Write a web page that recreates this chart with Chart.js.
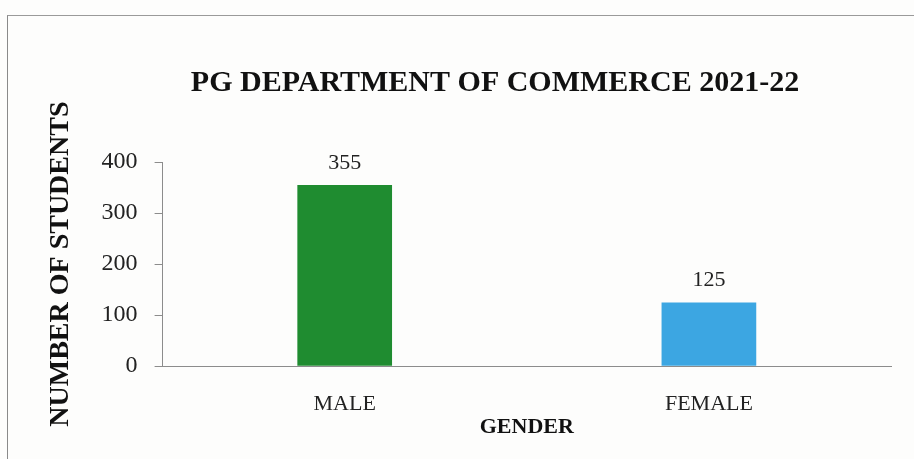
<!DOCTYPE html>
<html>
<head>
<meta charset="utf-8">
<script src="https://cdn.jsdelivr.net/npm/chart.js@4"></script>
<style>
  html, body { margin: 0; padding: 0; background: #fdfdfc; }
  #wrap { position: relative; width: 914px; height: 459px; }
  #frame { position: absolute; left: 7px; top: 15px; right: 0; bottom: 0;
           border-top: 1px solid #9a9a9a; border-left: 1px solid #8a8a8a; }
  canvas { position: absolute; left: 0; top: 0; }
</style>
</head>
<body>
<div id="wrap">
  <div id="frame"></div>
  <canvas id="myChart" width="914" height="459"></canvas>
</div>
<script>
const categories = ["MALE", "FEMALE"];
const students = [355, 125];
const barColors = ["rgb(31, 140, 48)", "rgb(60, 166, 226)"];
const yTicks = [0, 100, 200, 300, 400];

// draw the value above each bar
const valueLabels = {
  id: "valueLabels",
  afterDatasetsDraw(chart) {
    const ctx = chart.ctx;
    const meta = chart.getDatasetMeta(0);
    ctx.save();
    ctx.font = "22px 'Liberation Serif'";
    ctx.fillStyle = "#222";
    ctx.textAlign = "center";
    ctx.textBaseline = "middle";
    meta.data.forEach((bar, i) => {
      ctx.fillText(students[i], bar.x, bar.y - 22);
    });
    ctx.restore();
  },
};

const ctx = document.getElementById("myChart").getContext("2d");
const myChart = new Chart(ctx, {
  type: "bar",
  data: {
    labels: categories,
    datasets: [
      {
        label: "Students",
        data: students,
        backgroundColor: barColors,
        borderWidth: 0,
        barPercentage: 0.26,
        categoryPercentage: 1,
      },
    ],
  },
  options: {
    responsive: false,
    animation: false,
    layout: { padding: { top: 65, left: 99, right: 23, bottom: 18 } },
    plugins: {
      legend: { display: false },
      tooltip: { enabled: false },
      title: {
        display: true,
        text: "PG DEPARTMENT OF COMMERCE 2021-22",
        color: "#111",
        font: { family: "'Liberation Serif'", size: 30, weight: "bold" },
        padding: { top: 0, bottom: 61 },
      },
    },
    scales: {
      x: {
        grid: { display: true, drawOnChartArea: false, drawTicks: false },
        border: { color: "#8c8c8c", width: 1 },
        ticks: {
          color: "#222",
          padding: 25,
          font: { family: "'Liberation Serif'", size: 22 },
        },
        title: {
          display: true,
          text: "GENDER",
          color: "#111",
          font: { family: "'Liberation Serif'", size: 22, weight: "bold" },
          padding: { top: -28, bottom: 0 },
        },
      },
      y: {
        min: 0,
        max: 400,
        afterBuildTicks(axis) {
          axis.ticks = yTicks.map((v) => ({ value: v }));
        },
        grid: { display: true, drawOnChartArea: false, drawTicks: true, tickLength: 8, color: "#8c8c8c" },
        border: { color: "#8c8c8c", width: 1 },
        ticks: {
          color: "#222",
          padding: 17,
          font: { family: "'Liberation Serif'", size: 24 },
        },
        title: {
          display: true,
          text: "NUMBER OF STUDENTS",
          color: "#111",
          font: { family: "'Liberation Serif'", size: 28, weight: "bold" },
          padding: { top: -55, bottom: 7 },
        },
      },
    },
  },
  plugins: [valueLabels],
});
</script>
</body>
</html>
